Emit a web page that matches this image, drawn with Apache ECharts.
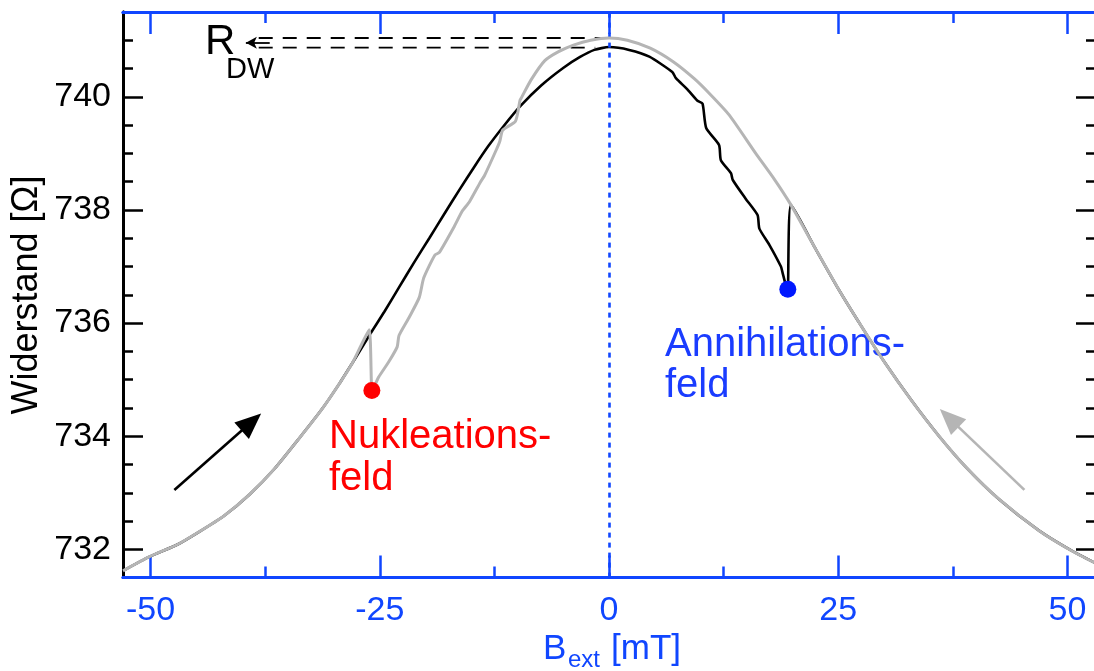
<!DOCTYPE html>
<html>
<head>
<meta charset="utf-8">
<script src="https://cdn.jsdelivr.net/npm/echarts@6/dist/echarts.min.js"></script>
<style>
  html, body { margin: 0; padding: 0; background: #ffffff; }
  #chart { width: 1094px; height: 671px; }
</style>
</head>
<body>
<div id="chart"></div>
<script>
// Field sweep from negative to positive B (black), [B in mT, R in Ohm]
const upSweep = [
  [-53.0, 731.62], [-50.1, 731.87], [-47.0, 732.09], [-44.7, 732.31], [-42.0, 732.59],
  [-39.2, 732.97], [-36.5, 733.42], [-33.8, 733.96], [-31.3, 734.48], [-29.4, 734.93],
  [-28.0, 735.29], [-26.9, 735.58], [-25.96, 735.83], [-24.5, 736.20], [-22.9, 736.63],
  [-21.3, 737.06], [-19.6, 737.50], [-18.0, 737.92], [-16.3, 738.36], [-14.7, 738.76],
  [-13.2, 739.12], [-11.5, 739.48], [-9.7, 739.83], [-7.4, 740.20], [-5.0, 740.51],
  [-3.2, 740.70], [-1.6, 740.83], [0.0, 740.88], [2.2, 740.83], [4.4, 740.71],
  [6.9, 740.44], [7.3, 740.33], [8.5, 740.14], [9.65, 739.93], [10.2, 739.88],
  [10.6, 739.45], [12.0, 739.15], [12.2, 738.88], [13.3, 738.65], [13.5, 738.53],
  [14.9, 738.20], [16.2, 737.91], [16.4, 737.67], [17.5, 737.38], [18.75, 737.00],
  [18.9, 736.91], [19.36, 736.62], [19.5, 736.60], [19.84, 738.09], [22.5, 737.32],
  [25.1, 736.58], [27.5, 735.95], [30.0, 735.32], [33.0, 734.63], [36.0, 734.00],
  [39.0, 733.44], [42.5, 732.89], [46.9, 732.33], [50.4, 731.98], [53.0, 731.76]
];

// Field sweep from positive to negative B (grey), [B in mT, R in Ohm]
const downSweep = [
  [53.0, 731.76], [50.4, 731.98], [46.9, 732.33], [42.5, 732.89], [39.0, 733.44],
  [36.0, 734.00], [33.0, 734.63], [30.0, 735.32], [27.5, 735.95], [25.1, 736.58],
  [22.5, 737.32], [19.84, 738.09], [18.0, 738.55], [16.0, 739.00], [13.1, 739.68],
  [11.0, 740.05], [9.3, 740.32], [7.0, 740.62], [4.5, 740.86], [2.0, 741.00],
  [0.0, 741.04], [-2.0, 741.00], [-3.8, 740.92], [-5.5, 740.80], [-7.0, 740.64],
  [-8.5, 740.30], [-9.5, 740.00], [-9.7, 739.94], [-10.2, 739.57], [-11.6, 739.41],
  [-11.9, 739.22], [-12.3, 739.06], [-13.6, 738.60], [-14.0, 738.50], [-15.2, 738.15],
  [-16.0, 737.98], [-16.9, 737.70], [-18.5, 737.25], [-19.0, 737.20], [-20.2, 736.80],
  [-20.7, 736.45], [-21.8, 736.10], [-22.9, 735.78], [-23.1, 735.58], [-24.0, 735.32],
  [-25.1, 735.05], [-25.6, 734.88], [-25.86, 734.81], [-26.15, 735.88], [-27.2, 735.55],
  [-28.0, 735.29], [-29.4, 734.93], [-31.3, 734.48], [-33.8, 733.96], [-36.5, 733.42],
  [-39.2, 732.97], [-42.0, 732.59], [-44.7, 732.31], [-47.0, 732.09], [-50.1, 731.87],
  [-53.0, 731.62]
];

// Switching events
const nucleationPoint = [-25.86, 734.81];
const annihilationPoint = [19.5, 736.60];

// Domain-wall resistance reference levels (grey and black maxima)
const rdwLevels = [741.04, 740.87];
const rdwLineStart = -38.2;
const rdwArrow = [[-37.0, 740.955], [-39.6, 740.955]];

// Sweep direction arrows
const upArrow = [[-47.4, 733.05], [-39.0, 734.25]];
const downArrow = [[45.3, 733.05], [37.1, 734.32]];

// Tick positions
const xMajorTicks = [-50, -25, 0, 25, 50];
const xMinorTicks = [-37.5, -12.5, 12.5, 37.5];
const yMajorTicks = [732, 734, 736, 738, 740];
const yMinorTicks = [732.5, 733, 733.5, 734.5, 735, 735.5, 736.5, 737, 737.5, 738.5, 739, 739.5, 740.5, 741];

const X_MIN = -53, X_MAX = 53, Y_MIN = 731.5, Y_MAX = 741.5;
const BLUE = '#1046ff';
const GREY = '#b5b5b5';
const RED = '#ff0000';
const FONT = '"Liberation Sans", Arial, Helvetica, sans-serif';

function xAxis(position, ticks, len, withLabels) {
  return {
    type: 'value', min: X_MIN, max: X_MAX, position: position, gridIndex: 0,
    axisLine: { show: true, onZero: false, lineStyle: { color: BLUE, width: 3 } },
    axisTick: { show: true, inside: true, length: len, customValues: ticks,
                lineStyle: { color: BLUE, width: 2.5 } },
    axisLabel: { show: withLabels, customValues: ticks, margin: 16, color: BLUE,
                 fontFamily: FONT, fontSize: 34, lineHeight: 34 },
    splitLine: { show: false }
  };
}

function yAxis(position, ticks, len, withLabels) {
  return {
    type: 'value', min: Y_MIN, max: Y_MAX, position: position, gridIndex: 0,
    axisLine: { show: true, onZero: false, lineStyle: { color: '#000000', width: 3 } },
    axisTick: { show: true, inside: true, length: len, customValues: ticks,
                lineStyle: { color: '#000000', width: 2.5 } },
    axisLabel: { show: withLabels, customValues: ticks, margin: 12, color: '#000000',
                 fontFamily: FONT, fontSize: 34 },
    splitLine: { show: false }
  };
}

const chart = echarts.init(document.getElementById('chart'), null, { renderer: 'canvas' });

const option = {
  animation: false,
  backgroundColor: '#ffffff',
  grid: { left: 123, top: 12, width: 972, height: 565.6, outerBoundsMode: 'none', containLabel: false },
  xAxis: [
    xAxis('bottom', xMajorTicks, 22, true),
    xAxis('bottom', xMinorTicks, 11, false),
    xAxis('top', xMajorTicks, 22, false),
    xAxis('top', xMinorTicks, 11, false)
  ],
  yAxis: [
    yAxis('left', yMajorTicks, 20, true),
    yAxis('left', yMinorTicks, 10, false),
    yAxis('right', yMajorTicks, 19, false),
    yAxis('right', yMinorTicks, 9, false)
  ],
  series: [
    {
      name: 'R_DW', type: 'line', xAxisIndex: 0, yAxisIndex: 0, symbol: 'none', silent: true,
      data: [[rdwLineStart, rdwLevels[0]], [0, rdwLevels[0]]],
      lineStyle: { color: '#000000', width: 1.8, type: [14, 10] }, z: 3,
      markLine: {
        silent: true, symbol: ['none', 'arrow'], symbolSize: [9, 11],
        label: { show: false },
        lineStyle: { color: '#000000', width: 1.8, type: 'solid' },
        data: [[{ coord: rdwArrow[0] }, { coord: rdwArrow[1] }]]
      }
    },
    {
      name: 'R_DW2', type: 'line', xAxisIndex: 0, yAxisIndex: 0, symbol: 'none', silent: true,
      data: [[rdwLineStart, rdwLevels[1]], [-1.5, rdwLevels[1]]],
      lineStyle: { color: '#000000', width: 1.8, type: [14, 10] }, z: 3
    },
    {
      name: 'up', type: 'line', xAxisIndex: 0, yAxisIndex: 0, symbol: 'none', silent: true,
      smooth: 0.2,
      data: upSweep, lineStyle: { color: '#000000', width: 2.6 }, z: 4,
      markLine: {
        silent: true, symbol: ['none', 'triangle'], symbolSize: [22, 26],
        label: { show: false },
        lineStyle: { color: '#000000', width: 2.6, type: 'solid' },
        data: [[{ coord: upArrow[0] }, { coord: upArrow[1] }]]
      }
    },
    {
      name: 'down', type: 'line', xAxisIndex: 0, yAxisIndex: 0, symbol: 'none', silent: true,
      smooth: 0.2,
      data: downSweep, lineStyle: { color: GREY, width: 3 }, z: 5,
      markLine: {
        silent: true, symbol: ['none', 'triangle'], symbolSize: [22, 26],
        label: { show: false },
        itemStyle: { color: GREY },
        lineStyle: { color: GREY, width: 2.6, type: 'solid' },
        data: [[{ coord: downArrow[0] }, { coord: downArrow[1] }]]
      }
    },
    {
      name: 'zero', type: 'line', xAxisIndex: 0, yAxisIndex: 0, symbol: 'none', silent: true,
      data: [],
      markLine: {
        silent: true, symbol: ['none', 'none'], label: { show: false },
        lineStyle: { color: BLUE, width: 2.6, type: [5, 5] },
        data: [{ xAxis: 0 }]
      }, z: 2
    },
    {
      name: 'nucleation', type: 'scatter', xAxisIndex: 0, yAxisIndex: 0, silent: true,
      data: [nucleationPoint], symbolSize: 17, itemStyle: { color: RED, opacity: 1 }, z: 6
    },
    {
      name: 'annihilation', type: 'scatter', xAxisIndex: 0, yAxisIndex: 0, silent: true,
      data: [annihilationPoint], symbolSize: 17, itemStyle: { color: '#0018ff', opacity: 1 }, z: 6
    }
  ],
  graphic: [
    { type: 'text', x: 27, y: 295, rotation: Math.PI / 2, silent: true,
      style: { text: 'Widerstand [Ω]', font: '36px ' + FONT, fill: '#000000',
               align: 'center', verticalAlign: 'middle' } },
    { type: 'text', x: 543, y: 649, silent: true,
      style: { text: 'B', font: '35px ' + FONT, fill: BLUE, align: 'left', verticalAlign: 'middle' } },
    { type: 'text', x: 568, y: 660, silent: true,
      style: { text: 'ext', font: '24px ' + FONT, fill: BLUE, align: 'left', verticalAlign: 'middle' } },
    { type: 'text', x: 611, y: 649, silent: true,
      style: { text: '[mT]', font: '35px ' + FONT, fill: BLUE, align: 'left', verticalAlign: 'middle' } },
    { type: 'text', x: 205, y: 42, silent: true,
      style: { text: 'R', font: '42px ' + FONT, fill: '#000000', align: 'left', verticalAlign: 'middle' } },
    { type: 'text', x: 226, y: 70, silent: true,
      style: { text: 'DW', font: '29px ' + FONT, fill: '#000000', align: 'left', verticalAlign: 'middle' } },
    { type: 'text', x: 329, y: 437, silent: true,
      style: { text: 'Nukleations-', font: '40px ' + FONT, fill: RED, align: 'left', verticalAlign: 'middle' } },
    { type: 'text', x: 329, y: 479, silent: true,
      style: { text: 'feld', font: '40px ' + FONT, fill: RED, align: 'left', verticalAlign: 'middle' } },
    { type: 'text', x: 665, y: 345, silent: true,
      style: { text: 'Annihilations-', font: '40px ' + FONT, fill: '#1a3cff', align: 'left', verticalAlign: 'middle' } },
    { type: 'text', x: 665, y: 386, silent: true,
      style: { text: 'feld', font: '40px ' + FONT, fill: '#1a3cff', align: 'left', verticalAlign: 'middle' } }
  ]
};

chart.setOption(option);
</script>
</body>
</html>
